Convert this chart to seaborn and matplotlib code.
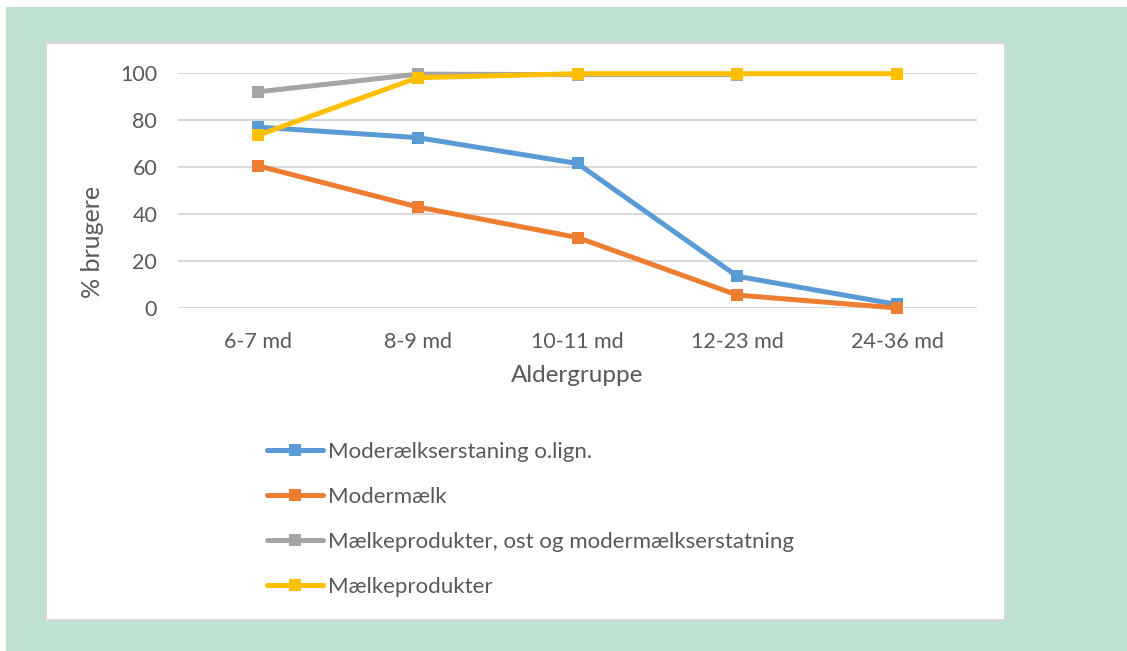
import numpy as np
import pandas as pd
import matplotlib
matplotlib.use("Agg")
import matplotlib.pyplot as plt
from matplotlib.patches import Rectangle
from matplotlib.lines import Line2D
import seaborn as sns

# Age groups and share of users (%) per milk type
age_groups = ["6-7 md", "8-9 md", "10-11 md", "12-23 md", "24-36 md"]
series_names = [
    "Moderælkserstaning o.lign.",
    "Modermælk",
    "Mælkeprodukter, ost og modermælkserstatning",
    "Mælkeprodukter",
]
formula_like = [77, 72.5, 61.5, 13.5, 1.5]
breast_milk = [60.5, 43, 30, 5.5, 0]
dairy_cheese_formula = [92, 99.5, 99.3, 99.3, np.nan]
dairy = [73.5, 98, 99.7, 99.7, 99.7]
colors = ["#5B9BD5", "#ED7D31", "#A5A5A5", "#FFC000"]

values = [formula_like, breast_milk, dairy_cheese_formula, dairy]
rows = []
for name, vals in zip(series_names, values):
    for i, (g, v) in enumerate(zip(age_groups, vals)):
        rows.append({"pos": i, "group": g, "serie": name, "pct": v})
df = pd.DataFrame(rows).dropna()

sns.set_theme(style="white")
plt.rcParams["font.family"] = ["Lato", "DejaVu Sans"]
text_col = "#595959"

W, H = 1127, 651
fig = plt.figure(figsize=(W / 100, H / 100), dpi=100)
fig.patch.set_facecolor("white")

# Green frame and white chart panel
fig.patches.append(Rectangle((6 / W, 0), 1 - 6 / W, (H - 7) / H,
                             transform=fig.transFigure, facecolor="#BFE1D2",
                             edgecolor="none", zorder=-3))
fig.patches.append(Rectangle((46 / W, 1 - 620 / H), (1005 - 46) / W, (620 - 43) / H,
                             transform=fig.transFigure, facecolor="white",
                             edgecolor="#D9D9D9", linewidth=1.5, zorder=-2))

ax = fig.add_axes([178 / W, 1 - 308 / H, (977 - 178) / W, (308 - 73) / H])
ax.set_facecolor("none")

sns.lineplot(data=df, x="pos", y="pct", hue="serie", hue_order=series_names,
             palette=colors, marker="s", markersize=8.5, markeredgewidth=0,
             linewidth=3.6, ax=ax, legend=False)
for ln in ax.lines:
    ln.set_clip_on(False)
    ln.set_solid_capstyle("round")

ax.set_xlim(-0.5, len(age_groups) - 0.5)
ax.set_ylim(0, 100)
ax.set_yticks([0, 20, 40, 60, 80, 100])
ax.set_xticks(range(len(age_groups)))
ax.set_xticklabels(age_groups)
ax.yaxis.grid(True, color="#D9D9D9", linewidth=1.5)
ax.set_axisbelow(True)
for s in ax.spines.values():
    s.set_visible(False)
ax.tick_params(axis="both", length=0, labelsize=15.5, colors=text_col)
ax.tick_params(axis="x", pad=17)
ax.tick_params(axis="y", pad=15)
ax.set_xlabel("Aldergruppe", fontsize=17.5, color=text_col, labelpad=10)
ax.set_ylabel("% brugere", fontsize=18, color=text_col)
ax.yaxis.set_label_coords(-0.093, 0.28)

# Legend below the plot
handles = [Line2D([0], [0], color=c, linewidth=3.6, marker="s", markersize=8.5,
                  markeredgewidth=0) for c in colors]
leg = fig.legend(handles, series_names, loc="upper left",
                 bbox_to_anchor=(247 / W, 1 - 422 / H), frameon=False,
                 fontsize=16, handlelength=2.5, handletextpad=0.25,
                 labelspacing=1.12, numpoints=1)
for t in leg.get_texts():
    t.set_color(text_col)

fig.savefig("out.png", dpi=100, facecolor=fig.get_facecolor())
